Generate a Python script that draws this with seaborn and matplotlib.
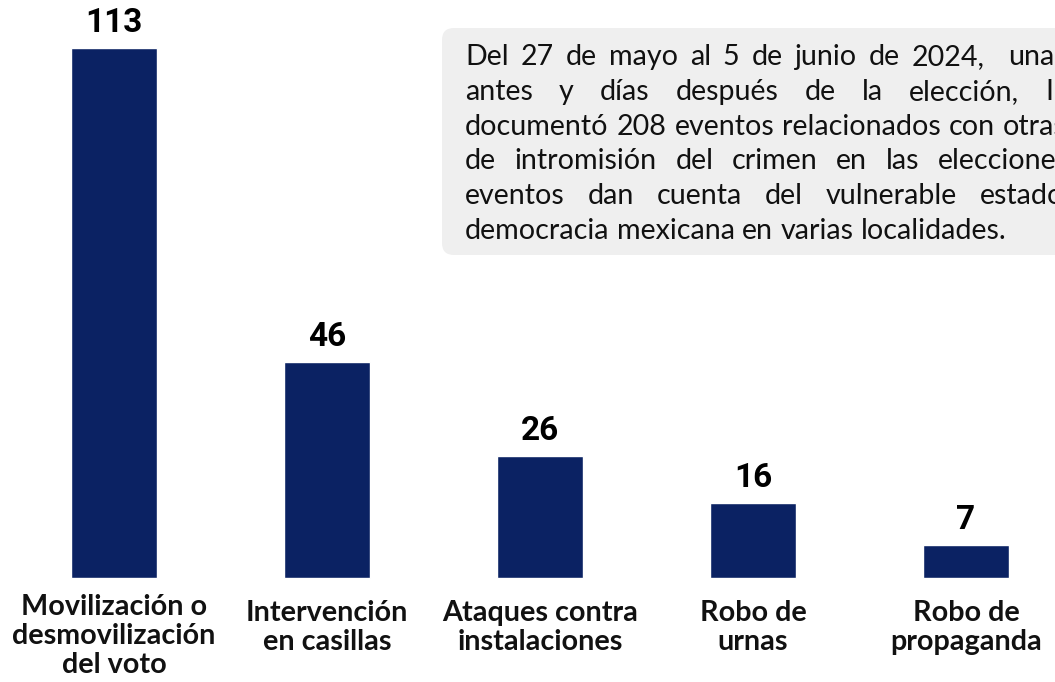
import matplotlib
matplotlib.use("Agg")
import matplotlib.pyplot as plt
import seaborn as sns
import pandas as pd
from matplotlib.patches import FancyBboxPatch
from matplotlib.transforms import IdentityTransform, blended_transform_factory

# ---------------- data ----------------
categories = [
    "Movilización o\ndesmovilización\ndel voto",
    "Intervención\nen casillas",
    "Ataques contra\ninstalaciones",
    "Robo de\nurnas",
    "Robo de\npropaganda",
]
values = [113, 46, 26, 16, 7]
note_lines = [
    "Del 27 de mayo al 5 de junio de 2024,  una semana",
    "antes y días después de la elección, Integralia",
    "documentó 208 eventos relacionados con otras formas",
    "de intromisión del crimen en las elecciones. Estos",
    "eventos dan cuenta del vulnerable estado de la",
    "democracia mexicana en varias localidades.",
]

NAVY = "#0b2263"
BOX_BG = "#efefef"
TXT = "#111111"

sns.set_theme(style="white")
plt.rcParams["font.family"] = ["Lato", "DejaVu Sans"]

W, H = 1055, 682
fig = plt.figure(figsize=(W / 100, H / 100), dpi=100)
ax = fig.add_axes([0, 0, 1, 1])

df = pd.DataFrame({"cat": categories, "val": values})
sns.barplot(data=df, x="cat", y="val", color=NAVY, saturation=1, width=0.4, ax=ax)
ax.set_xlim(-0.535, 4.418)
ax.set_ylim(-22.17, 123.24)
ax.axis("off")

# value labels above bars
for p, v in zip(ax.patches, values):
    ax.annotate(str(v), (p.get_x() + p.get_width() / 2, p.get_height()),
                xytext=(0, 11.5), textcoords="offset points",
                ha="center", va="baseline", fontsize=24, fontweight="bold",
                family=["Roboto", "DejaVu Sans"], color="black")

# category labels under bars
tr = blended_transform_factory(ax.transData, IdentityTransform())
for i, lab in enumerate(categories):
    n = lab.count("\n") + 1
    cy = 627.5 + 8.5 * (n - 2)
    ax.text(i, H - cy, lab, transform=tr, ha="center", va="center",
            multialignment="center", fontsize=20.7, fontweight="bold",
            linespacing=1.12, color=TXT)

# note box (extends past the right edge, like the reference)
box = FancyBboxPatch((442, H - 255), 760, 227,
                     boxstyle="round,pad=0,rounding_size=12",
                     transform=IdentityTransform(), facecolor=BOX_BG,
                     edgecolor="none", zorder=0)
fig.add_artist(box)

renderer = fig.canvas.get_renderer()
FS = 20.6


def measure(s):
    t = fig.text(0, 0, s, transform=IdentityTransform(), fontsize=FS)
    w = t.get_window_extent(renderer).width
    t.remove()
    return w


space_w = measure("a a") - measure("aa")
text_w = measure(note_lines[2]) + 4

# justified paragraph
x0 = 465
for li, line in enumerate(note_lines):
    yb = H - (65 + 34.8 * li)
    words = line.split(" ")
    arts = []
    widths = []
    for w_ in words:
        t = fig.text(0, 0, w_, transform=IdentityTransform(), fontsize=FS,
                     ha="left", va="baseline", color=TXT)
        arts.append(t)
        widths.append(t.get_window_extent(renderer).width if w_ else 0.0)
    if li < len(note_lines) - 1 and len(words) > 1:
        gap = (text_w - sum(widths)) / (len(words) - 1)
    else:
        gap = space_w
    x = x0
    for t, wd in zip(arts, widths):
        t.set_position((x, yb))
        x += wd + gap

fig.savefig("out.png", dpi=100)
